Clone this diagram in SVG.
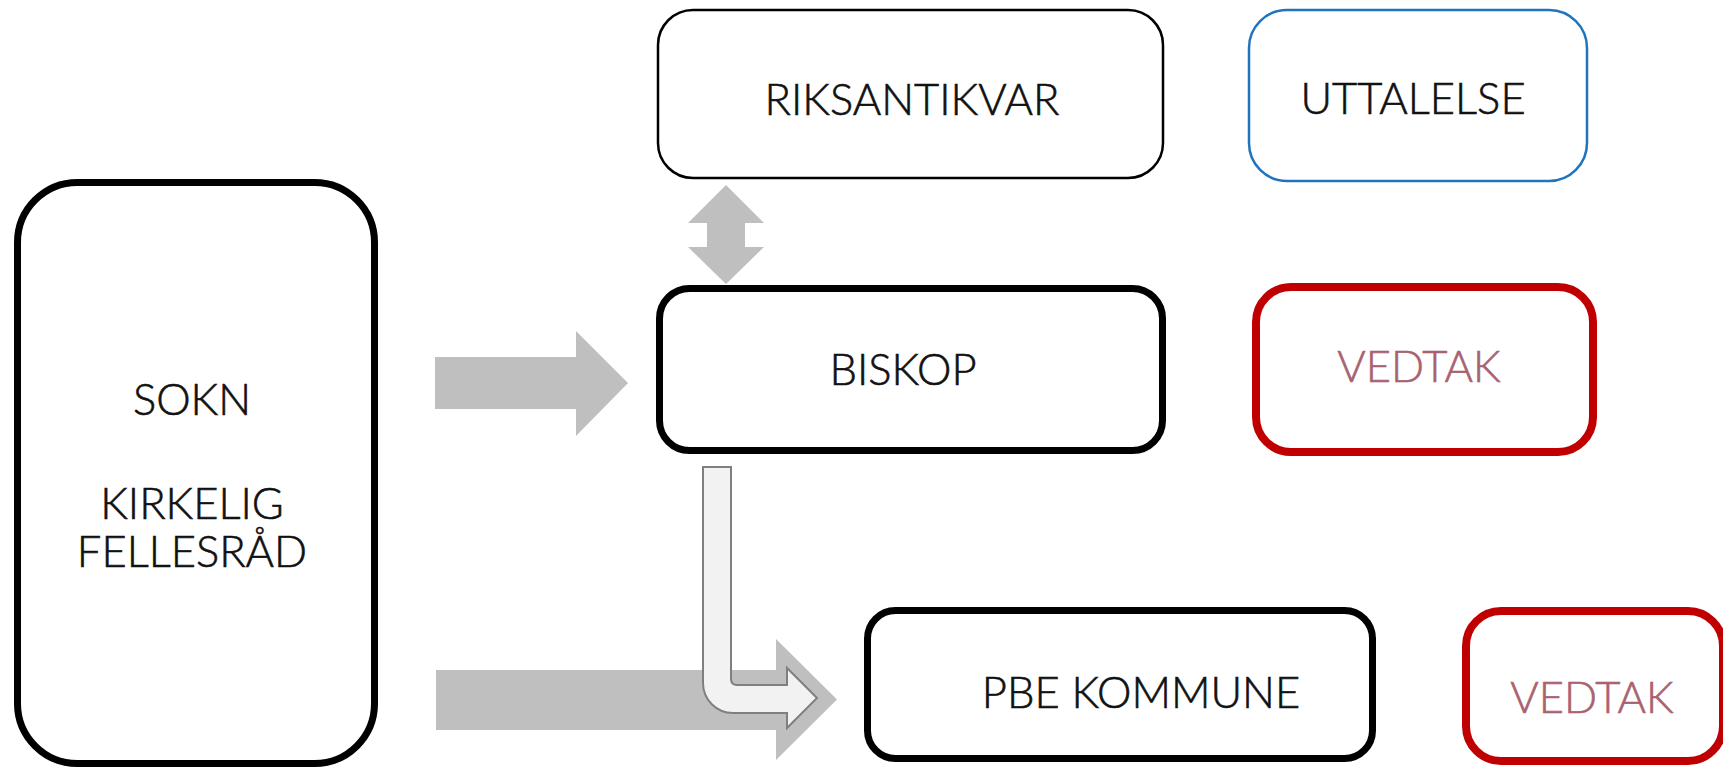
<svg xmlns="http://www.w3.org/2000/svg" width="1723" height="773" viewBox="0 0 1723 773">
<style>
.box{fill:#fff;}
.thick{stroke:#000;stroke-width:7;}
.thin{stroke:#000;stroke-width:2.5;}
.blue{stroke:#1F73BF;stroke-width:2.5;}
.red{stroke:#C00000;stroke-width:8;}
.t{font-family:Lato,"Liberation Sans",sans-serif;font-weight:300;font-size:43.5px;fill:#111;stroke:#111;stroke-width:0.6;text-anchor:middle;}
.v{fill:#A9626F;stroke:#A9626F;}
.ga{fill:#BFBFBF;}
.ba{fill:#F2F2F2;stroke:#7F7F7F;stroke-width:2;}
</style>
<rect width="1723" height="773" fill="#fff"/>
<g id="connectors">
<path class="ga" d="M435,357 H576 V331 L628,383 L576,436 V409 H435 Z"/>
<path class="ga" d="M436,670 H776 V639 L837,699.5 L776,760 V730 H436 Z"/>
<path class="ga" d="M726,185 L764,223 H745 V247 H764 L726,284 L688,247 H707 V223 H688 Z"/>
<path class="ba" d="M703,467 H731 V679 Q731,685 737,685 H787 V668 L817,698 L787,728 V713 H733 A30,30 0 0 1 703,683 Z"/>
</g>
<g id="sokn">
<rect class="box thick" x="17.5" y="182.5" width="357" height="581" rx="60"/>
<text class="t" x="192" y="415">SOKN</text>
<text class="t" x="192" y="519">KIRKELIG</text>
<text class="t" x="192" y="567">FELLESRÅD</text>
</g>
<g id="riksantikvar">
<rect class="box thin" x="658" y="10" width="505" height="168" rx="35"/>
<text class="t" x="912" y="115">RIKSANTIKVAR</text>
</g>
<g id="uttalelse">
<rect class="box blue" x="1249" y="10" width="338" height="171" rx="38"/>
<text class="t" x="1413" y="114">UTTALELSE</text>
</g>
<g id="biskop">
<rect class="box thick" x="659.5" y="288.5" width="503" height="162" rx="30"/>
<text class="t" x="903" y="385">BISKOP</text>
</g>
<g id="vedtak1">
<rect class="box red" x="1256" y="287" width="337" height="165" rx="35"/>
<text class="t v" x="1419" y="382">VEDTAK</text>
</g>
<g id="pbe">
<rect class="box thick" x="867.5" y="610.5" width="505" height="148" rx="28"/>
<text class="t" x="1141" y="708">PBE KOMMUNE</text>
</g>
<g id="vedtak2">
<rect class="box red" x="1466" y="611" width="257" height="150" rx="35"/>
<text class="t v" x="1592" y="713">VEDTAK</text>
</g>
</svg>
